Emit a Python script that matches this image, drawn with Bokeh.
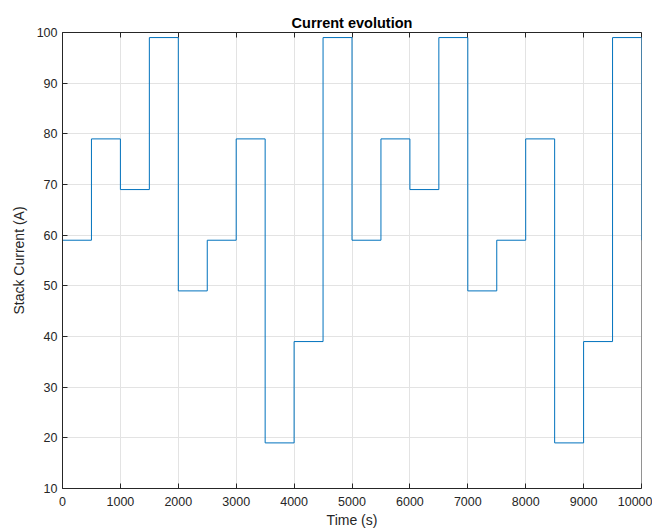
from bokeh.plotting import figure
from bokeh.models import Range1d, LinearAxis, FixedTicker, Title
from bokeh.embed import file_html
from bokeh.resources import INLINE

# Step times (s) and stack current levels (A)
time_s = [0, 500, 1000, 1500, 2000, 2500, 3000, 3500, 4000, 4500, 5000,
          5500, 6000, 6500, 7000, 7500, 8000, 8500, 9000, 9500, 10000]
current_a = [59, 79, 69, 99, 49, 59, 79, 19, 39, 99, 59,
             79, 69, 99, 49, 59, 79, 19, 39, 99, 59]
x_ticks = [0, 1000, 2000, 3000, 4000, 5000, 6000, 7000, 8000, 9000, 10000]
y_ticks = [10, 20, 30, 40, 50, 60, 70, 80, 90, 100]

FONT = "Liberation Sans"
AX = "#262626"

p = figure(width=652, height=530, output_backend="svg", toolbar_location=None,
           x_range=Range1d(0, 10000), y_range=Range1d(10, 100),
           min_border_left=62, min_border_right=11, min_border_top=32,
           min_border_bottom=41)
p.title = Title(text="Current evolution", align="center",
                text_font=FONT, text_font_size="14.5px", text_font_style="bold",
                text_color="#000000", standoff=4)
p.outline_line_color = None
p.background_fill_color = "white"

p.step(time_s, current_a, mode="after", line_color="#0072BD", line_width=1)

def style(ax, labels=True):
    ax.axis_line_color = AX
    ax.axis_line_width = 1
    ax.major_tick_in = 5
    ax.major_tick_out = 0
    ax.minor_tick_line_color = None
    ax.major_tick_line_color = AX
    ax.major_label_text_font = FONT
    ax.major_label_text_font_size = "12.5px"
    ax.major_label_text_color = AX
    ax.axis_label_text_font = FONT
    ax.axis_label_text_font_size = "14px"
    ax.axis_label_text_font_style = "normal"
    ax.axis_label_text_color = AX
    if not labels:
        ax.major_label_text_font_size = "0px"
        ax.major_label_text_alpha = 0

p.xaxis.ticker = FixedTicker(ticks=x_ticks)
p.yaxis.ticker = FixedTicker(ticks=y_ticks)
p.xaxis.axis_label = "Time (s)"
p.yaxis.axis_label = "Stack Current (A)"
style(p.xaxis[0])
style(p.yaxis[0])
p.xaxis.major_label_standoff = 8
p.yaxis.major_label_standoff = 5
p.xaxis.axis_label_standoff = 3
p.yaxis.axis_label_standoff = 7

top = LinearAxis(ticker=FixedTicker(ticks=x_ticks))
right = LinearAxis(ticker=FixedTicker(ticks=y_ticks))
style(top, False)
style(right, False)
top.major_label_standoff = 0
right.major_label_standoff = 0
right.level = "underlay"
p.add_layout(top, "above")
p.add_layout(right, "right")

p.xgrid.ticker = FixedTicker(ticks=x_ticks)
p.ygrid.ticker = FixedTicker(ticks=y_ticks)
p.grid.grid_line_color = "#e3e3e3"
p.grid.grid_line_width = 1

open("out.html", "w").write(file_html(p, INLINE))
